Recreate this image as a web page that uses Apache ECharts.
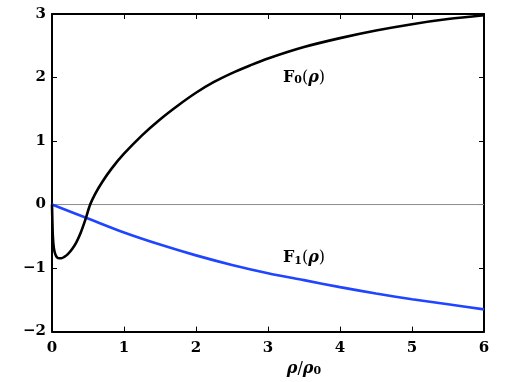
<!DOCTYPE html>
<html>
<head>
<meta charset="utf-8">
<script src="https://cdn.jsdelivr.net/npm/echarts@6/dist/echarts.min.js"></script>
<style>html,body{margin:0;padding:0;background:#fff}#c{width:509px;height:382px}</style>
</head>
<body>
<div id="c"></div>
<script>
// rho/rho0 sample positions and values of F0
var rhoF0 = [0, 0.005, 0.012, 0.025, 0.045, 0.07, 0.1, 0.13, 0.17, 0.22, 0.28, 0.34, 0.4, 0.46, 0.53, 0.6, 0.7, 0.83, 1.0, 1.25, 1.5, 1.75, 2.0, 2.25, 2.5, 2.75, 3.0, 3.5, 4.0, 4.5, 5.0, 5.5, 6.0];
var F0 = [0, -0.25, -0.5, -0.68, -0.78, -0.83, -0.845, -0.845, -0.825, -0.78, -0.7, -0.59, -0.44, -0.25, 0, 0.17, 0.36, 0.57, 0.8, 1.09, 1.34, 1.56, 1.76, 1.93, 2.07, 2.19, 2.3, 2.48, 2.62, 2.74, 2.84, 2.92, 2.98];
// rho/rho0 sample positions and values of F1
var rhoF1 = [0, 0.5, 1.0, 1.5, 2.0, 2.5, 3.0, 3.5, 4.0, 4.5, 5.0, 5.5, 6.0];
var F1 = [0, -0.22, -0.44, -0.63, -0.8, -0.95, -1.08, -1.19, -1.3, -1.4, -1.49, -1.57, -1.65];
var xTicks = [0, 1, 2, 3, 4, 5, 6];
var yTicks = [-2, -1, 0, 1, 2, 3];
var labelF0 = {x: 3.5, y: 2.0};
var labelF1 = {x: 3.5, y: -0.84};

var FONT = 'DejaVu Serif';
function pairs(xs, ys) { return xs.map(function (x, i) { return [x, ys[i]]; }); }
var rich = {
  F: {fontFamily: FONT, fontWeight: 'bold', fontSize: 16, color: '#000'},
  s: {fontFamily: FONT, fontWeight: 'bold', fontSize: 11, color: '#000', padding: [6, 0, 0, 0]},
  p: {fontFamily: FONT, fontSize: 16, color: '#000'},
  r: {fontFamily: FONT, fontWeight: 'bold', fontStyle: 'italic', fontSize: 16, color: '#000'}
};
function axisX(pos, showLabel) {
  return {
    type: 'value', position: pos, min: xTicks[0], max: xTicks[xTicks.length - 1], interval: 1,
    axisLine: {show: true, onZero: false, lineStyle: {color: '#000', width: 2}},
    axisTick: {show: true, inside: true, length: 5, lineStyle: {color: '#000', width: 1}},
    splitLine: {show: false},
    axisLabel: {show: showLabel, margin: 9, color: '#000', fontFamily: FONT, fontWeight: 'bold', fontSize: 15},
    name: showLabel ? '{r|ρ}{p|/}{r|ρ}{s|0}' : '',
    nameLocation: 'middle', nameGap: 27,
    nameTextStyle: {padding: [0, 0, 0, 72], rich: rich}
  };
}
function axisY(pos, showLabel) {
  return {
    type: 'value', position: pos, min: yTicks[0], max: yTicks[yTicks.length - 1], interval: 1,
    axisLine: {show: true, onZero: false, lineStyle: {color: '#000', width: 2}},
    axisTick: {show: true, inside: true, length: 5, lineStyle: {color: '#000', width: 1}},
    splitLine: {show: false},
    axisLabel: {show: showLabel, margin: 6, color: '#000', fontFamily: FONT, fontWeight: 'bold', fontSize: 15,
      formatter: function (v) { return String(v).replace('-', '\u2212'); }}
  };
}
var chart = echarts.init(document.getElementById('c'), null, {renderer: 'canvas'});
chart.setOption({
  animation: false,
  backgroundColor: '#fff',
  grid: {left: 52, right: 25, top: 14, bottom: 45},
  xAxis: [axisX('bottom', true), axisX('top', false)],
  yAxis: [axisY('left', true), axisY('right', false)],
  series: [
    {
      type: 'line', data: [[xTicks[0], 0], [xTicks[xTicks.length - 1], 0]], symbol: 'none', silent: true,
      lineStyle: {color: '#8c8c8c', width: 1}, z: 1
    },
    {
      type: 'line', data: pairs(rhoF0, F0), symbol: 'none', smooth: 0.3,
      lineStyle: {color: '#000', width: 2.6}, z: 3,
      markPoint: {symbolSize: 0, silent: true, data: [{coord: [labelF0.x, labelF0.y], label: {show: true, position: 'inside', formatter: '{F|F}{s|0}{p|(}{r|ρ}{p|)}', rich: rich}}]}
    },
    {
      type: 'line', data: pairs(rhoF1, F1), symbol: 'none', smooth: 0.3,
      lineStyle: {color: '#1f45ff', width: 2.6}, z: 2,
      markPoint: {symbolSize: 0, silent: true, data: [{coord: [labelF1.x, labelF1.y], label: {show: true, position: 'inside', formatter: '{F|F}{s|1}{p|(}{r|ρ}{p|)}', rich: rich}}]}
    }
  ]
});
</script>
</body>
</html>
